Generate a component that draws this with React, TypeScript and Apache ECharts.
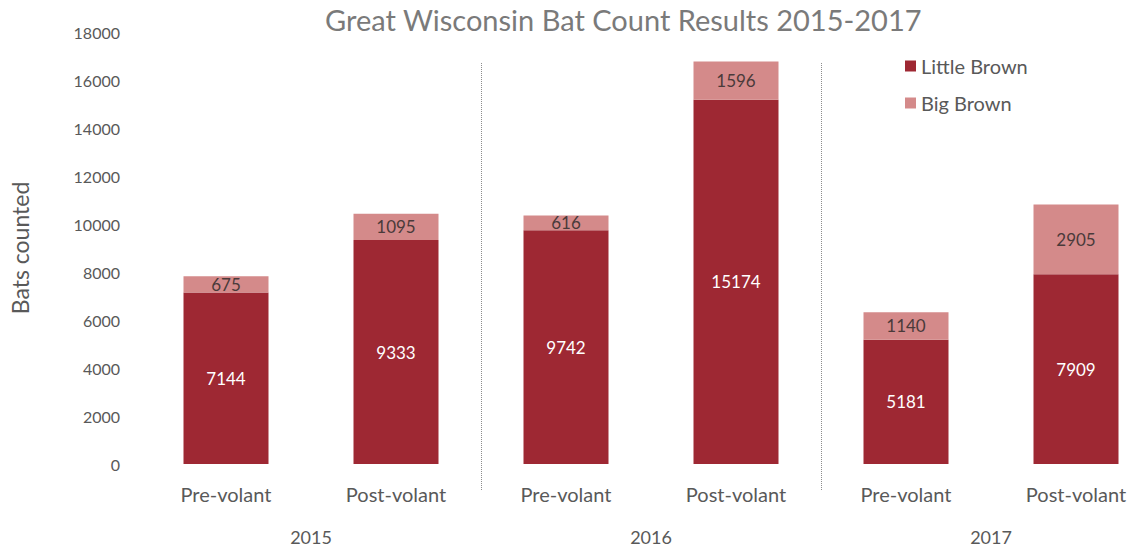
import React, { useEffect, useRef } from "react";
import * as echarts from "echarts";

const stages = ["Pre-volant", "Post-volant", "Pre-volant", "Post-volant", "Pre-volant", "Post-volant"];
const years = ["2015", "2016", "2017"];
const littleBrown = [7144, 9333, 9742, 15174, 5181, 7909];
const bigBrown = [675, 1095, 616, 1596, 1140, 2905];
const yMin = 0;
const yMax = 18000;
const yStep = 2000;

const FONT = "Lato";
const GREY = "#595959";

export default function App() {
  const ref = useRef<HTMLDivElement>(null);
  useEffect(() => {
    if (!ref.current) return;
    const chart = echarts.init(ref.current, undefined, { renderer: "svg" });
    chart.setOption({
      animation: false,
      backgroundColor: "#ffffff",
      textStyle: { fontFamily: FONT },
      title: {
        text: "Great Wisconsin Bat Count Results 2015-2017",
        left: 320,
        top: 0,
        textStyle: { fontSize: 29, fontWeight: "normal", color: "#7a7a7a", fontFamily: FONT },
      },
      legend: {
        orient: "vertical",
        left: 900,
        top: 51,
        itemWidth: 11,
        itemHeight: 11,
        itemGap: 17,
        icon: "rect",
        textStyle: { fontSize: 20, color: GREY, fontFamily: FONT },
        data: ["Little Brown", "Big Brown"],
      },
      grid: { left: 141, width: 1020, top: 32, bottom: 85, outerBoundsMode: "none", containLabel: false },
      xAxis: [
        {
          type: "category",
          data: stages,
          axisLine: { show: false },
          axisTick: { show: false },
          axisLabel: { margin: 20, fontSize: 20, color: GREY, fontFamily: FONT },
        },
        {
          type: "category",
          data: years,
          position: "bottom",
          offset: 26,
          axisLine: { show: false },
          axisTick: {
            show: true,
            inside: true,
            length: 427,
            interval: (i: number) => i > 0,
            lineStyle: { type: "dotted", color: "#8c8c8c", width: 1 },
          },
          axisLabel: { margin: 38, fontSize: 18, color: GREY, fontFamily: FONT },
        },
      ],
      yAxis: {
        type: "value",
        min: yMin,
        max: yMax,
        interval: yStep,
        name: "Bats counted",
        nameLocation: "middle",
        nameGap: 110,
        nameTextStyle: { fontSize: 23, color: GREY, fontFamily: FONT },
        axisLine: { show: false },
        axisTick: { show: false },
        splitLine: { show: false },
        axisLabel: {
          margin: 21,
          fontSize: 16,
          color: GREY,
          fontFamily: FONT,
          formatter: (v: number) => String(v),
        },
      },
      series: [
        {
          name: "Little Brown",
          type: "bar",
          stack: "total",
          barWidth: "50%",
          data: littleBrown,
          itemStyle: { color: "#9e2833" },
          label: { show: true, position: "inside", color: "#ffffff", fontSize: 17, fontFamily: FONT },
        },
        {
          name: "Big Brown",
          type: "bar",
          stack: "total",
          barWidth: "50%",
          data: bigBrown,
          itemStyle: { color: "#d48a8a" },
          label: { show: true, position: "inside", color: "#4a3a3a", fontSize: 17, fontFamily: FONT },
        },
      ],
    });
    return () => chart.dispose();
  }, []);
  return (
    <div
      ref={ref}
      style={{ position: "fixed", left: 0, top: 0, width: 1129, height: 549 }}
    />
  );
}
